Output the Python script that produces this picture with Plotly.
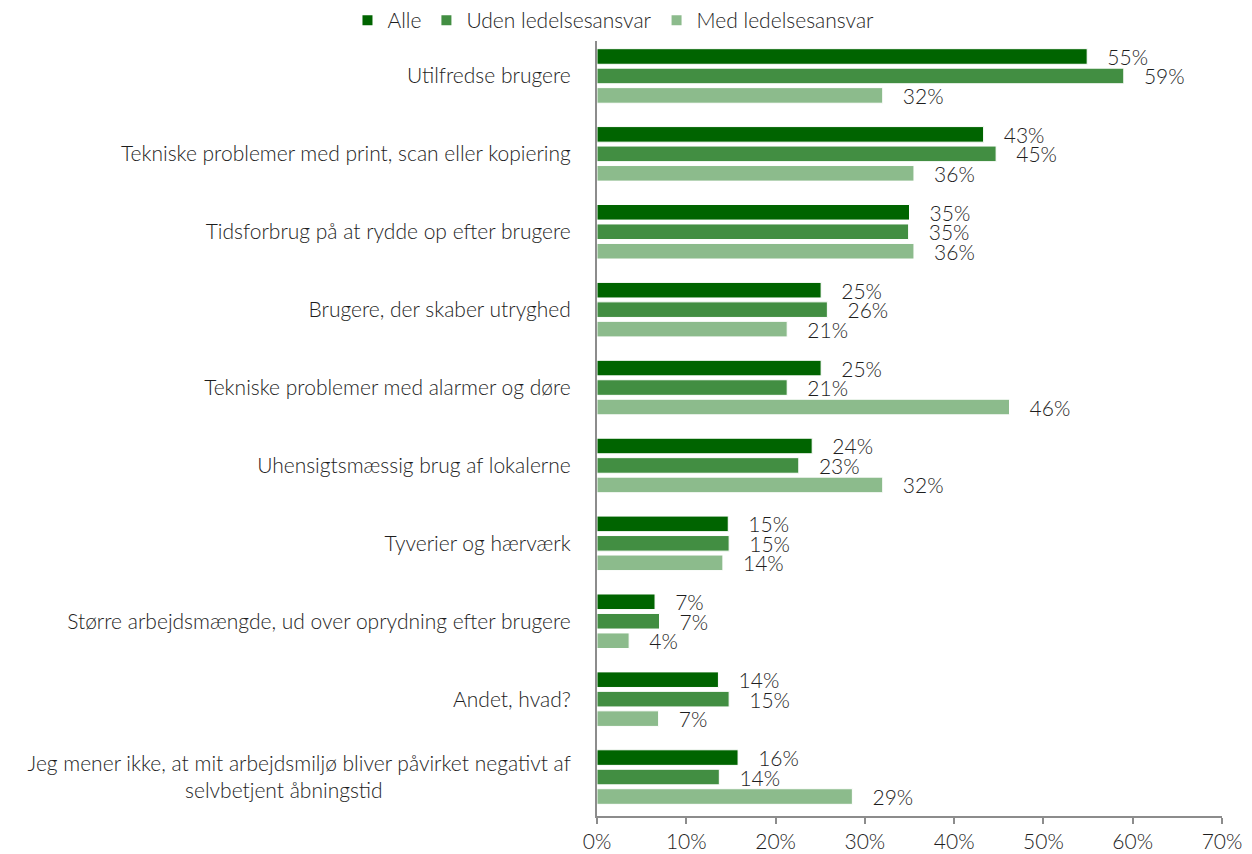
import plotly.graph_objects as go

categories = [
    "Utilfredse brugere",
    "Tekniske problemer med print, scan eller kopiering",
    "Tidsforbrug på at rydde op efter brugere",
    "Brugere, der skaber utryghed",
    "Tekniske problemer med alarmer og døre",
    "Uhensigtsmæssig brug af lokalerne",
    "Tyverier og hærværk",
    "Større arbejdsmængde, ud over oprydning efter brugere",
    "Andet, hvad?",
    "Jeg mener ikke, at mit arbejdsmiljø bliver påvirket negativt af<br>selvbetjent åbningstid" + "\u00a0" * 33,
]
alle = [0.549, 0.433, 0.350, 0.251, 0.251, 0.241, 0.147, 0.065, 0.136, 0.158]
uden = [0.590, 0.447, 0.349, 0.258, 0.213, 0.226, 0.148, 0.070, 0.148, 0.137]
med = [0.320, 0.355, 0.355, 0.213, 0.462, 0.320, 0.141, 0.036, 0.069, 0.286]

series = [
    ("Alle", alle, "#006400"),
    ("Uden ledelsesansvar", uden, "#428e42"),
    ("Med ledelsesansvar", med, "#8cbb8c"),
]

FONT = "Lato, 'Noto Sans', sans-serif"
TXT = "#1e1e1e"
FS = 21

fig = go.Figure()
for name, vals, col in series:
    fig.add_trace(go.Bar(
        y=categories, x=vals, name=name, orientation="h",
        marker=dict(color=col, line=dict(color="#ffffff", width=1)),
        texttemplate="\u00a0\u00a0\u00a0%{x:.0%}", textposition="outside",
        constraintext="none", cliponaxis=False,
        textfont=dict(size=FS, color=TXT, family=FONT, weight=300),
        hoverinfo="skip",
    ))

fig.update_layout(
    barmode="group", bargap=0.25, bargroupgap=0.2,
    width=1252, height=854,
    margin=dict(l=597, r=30, t=37, b=38, autoexpand=False),
    paper_bgcolor="white", plot_bgcolor="white",
    font=dict(family=FONT, size=FS, color=TXT, weight=300),
    legend=dict(orientation="h", xref="container", yref="container",
                x=0.49, xanchor="center", y=1.0, yanchor="top",
                font=dict(size=FS, color=TXT, weight=300), traceorder="normal",
                itemwidth=30, itemsizing="constant",
                tracegroupgap=0),
    xaxis=dict(range=[0, 0.7], dtick=0.1, tickformat=".0%", showgrid=False,
               zeroline=False, showline=True, linecolor="#8c8c8c", linewidth=2,
               ticks="outside", ticklen=6, tickcolor="#8c8c8c", tickwidth=2,
               tickfont=dict(size=FS, color=TXT, weight=300)),
    yaxis=dict(autorange="reversed", showgrid=False, showline=True,
               linecolor="#8c8c8c", linewidth=2, ticks="",
               ticklabelstandoff=20, tickfont=dict(size=FS, color=TXT, weight=300)),
)

fig.write_html("out.html")
